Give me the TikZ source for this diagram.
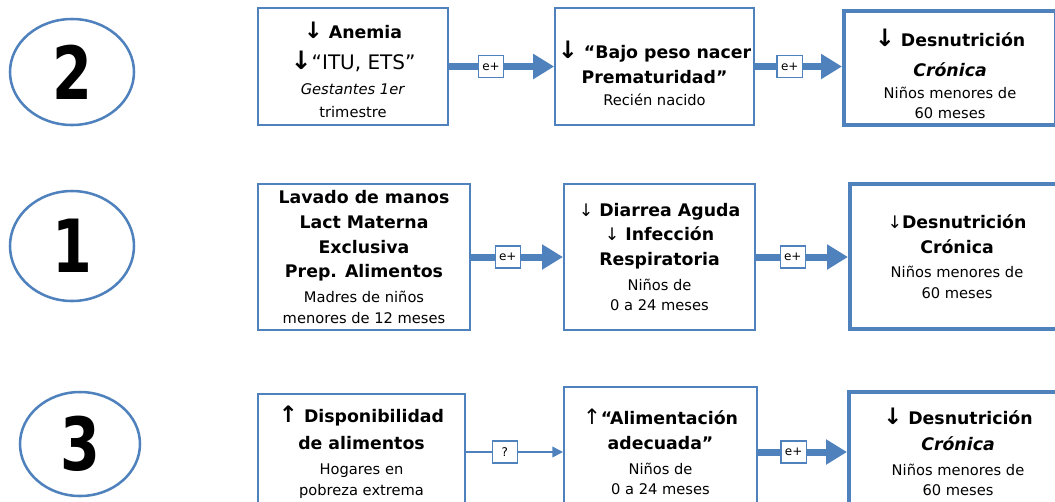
\documentclass[tikz,border=0pt]{standalone}
\usepackage{fontspec}
\setmainfont{DejaVu Sans}
\newfontfamily\digitfont[FakeStretch=0.78]{DejaVu Sans}
\usetikzlibrary{arrows.meta, positioning, shapes.geometric}
\definecolor{frame}{HTML}{4F81BD}
\newcommand{\sm}[1]{{\fontsize{11}{14}\selectfont\mdseries #1}}
\newcommand{\thin}[1]{{\mdseries #1}}
\newcommand{\bigdown}[1][17]{{\fontsize{#1}{#1}\selectfont ↓}}
\newcommand{\bigup}[1][17]{{\fontsize{#1}{#1}\selectfont ↑}}

\begin{document}
\begin{tikzpicture}[x=0.75pt, y=-0.75pt,
  box/.style={draw=frame, line width=1.5pt, align=center, inner sep=2pt, font=\fontsize{13}{18.5}\selectfont\bfseries},
  outbox/.style={box, line width=3pt},
  num/.style={ellipse, draw=frame, line width=1.9pt, font=\digitfont\fontsize{55}{55}\selectfont\bfseries},
  link/.style={draw=frame, line width=5.25pt, -{Triangle[length=15.75pt, width=18pt]}},
  weaklink/.style={draw=frame, line width=1.2pt, -{Triangle[length=8pt, width=8pt]}},
  tag/.style={draw=frame, fill=white, line width=0.9pt, inner sep=1pt, minimum width=19pt, minimum height=16.5pt, font=\fontsize{9}{9}\selectfont}]

\useasboundingbox (0,0) rectangle (1055,501);

% row 2
\node[num, minimum width=93pt, minimum height=79.5pt] (two) at (72,72) {2};
\node[box, minimum width=142.5pt, minimum height=87.75pt] (anemia) at (353,66.5) {\rule{0pt}{17pt}\bigdown{} Anemia\\[5pt] \bigdown[19]{\mdseries\fontsize{15}{15}\selectfont“ITU, ETS”}\\ \sm{\textit{Gestantes 1er}}\\[-1pt] \sm{trimestre}};
\node[box, minimum width=144.75pt, minimum height=87.75pt] (birth) at (654.5,66.5) {\rule{0pt}{23pt}\bigdown[18] “Bajo peso nacer\\ Prematuridad”\\[-2pt] \sm{Recién nacido}};
\node[outbox, minimum width=159pt, minimum height=85.5pt] (stuntA) at (950,68) {\rule{0pt}{22pt}\bigdown[18] Desnutrición\\[4pt] \textit{Crónica}\\[-2pt] \sm{Niños menores de}\\[-4pt] \sm{60 meses}};
\draw[link] (anemia) -- node[tag, pos=0.4] (tagA) {e+} (birth);
\draw[link] (birth.east) -- node[tag, pos=0.4] (tagB) {e+} (birth.east -| stuntA.west);

% row 1
\node[num, minimum width=93pt, minimum height=82.5pt] (one) at (72,246) {1};
\node[box, minimum width=159pt, minimum height=109.5pt] (hygiene) at (364,257) {Lavado de manos\\ Lact Materna\\ Exclusiva\\ Prep. Alimentos\\ \sm{Madres de niños}\\[-3pt] \sm{menores de 12 meses}};
\node[box, minimum width=143.25pt, minimum height=109.5pt] (illness) at (659.5,257) {\thin{↓} Diarrea Aguda\\ \thin{↓} Infección\\ Respiratoria\\ \sm{Niños de}\\[-3pt] \sm{0 a 24 meses}};
\node[outbox, minimum width=160.5pt, minimum height=108.75pt] (stuntB) at (957,256.5) {\thin{↓}Desnutrición\\ Crónica\\ \sm{Niños menores de}\\[-3pt] \sm{60 meses}};
\draw[link] (hygiene) -- node[tag, pos=0.4] (tagC) {e+} (illness);
\draw[link] (illness.east) -- node[tag, pos=0.4] (tagD) {e+} (illness.east -| stuntB.west);

% row 3
\node[num, minimum width=90pt, minimum height=78pt] (three) at (80,444) {3};
\node[box, minimum width=155.25pt, minimum height=87pt] (food) at (361.5,452) {\bigup{} Disponibilidad\\[2pt] de alimentos\\ \sm{Hogares en}\\[-3pt] \sm{pobreza extrema}};
\node[box, minimum width=144.75pt, minimum height=97.5pt] (diet) at (660.5,452) {{\mdseries\fontsize{16}{16}\selectfont ↑}“Alimentación\\ adecuada”\\ \sm{Niños de}\\[-3pt] \sm{0 a 24 meses}};
\node[outbox, minimum width=163.5pt, minimum height=90pt] (stuntC) at (958,452) {\bigdown{} Desnutrición\\[1pt] \textit{Crónica}\\ \sm{Niños menores de}\\[-3pt] \sm{60 meses}};
\draw[weaklink] (food) -- node[tag, pos=0.4] (tagE) {?} (diet);
\draw[link] (diet) -- node[tag, pos=0.4] (tagF) {e+} (stuntC);

\end{tikzpicture}
\end{document}
